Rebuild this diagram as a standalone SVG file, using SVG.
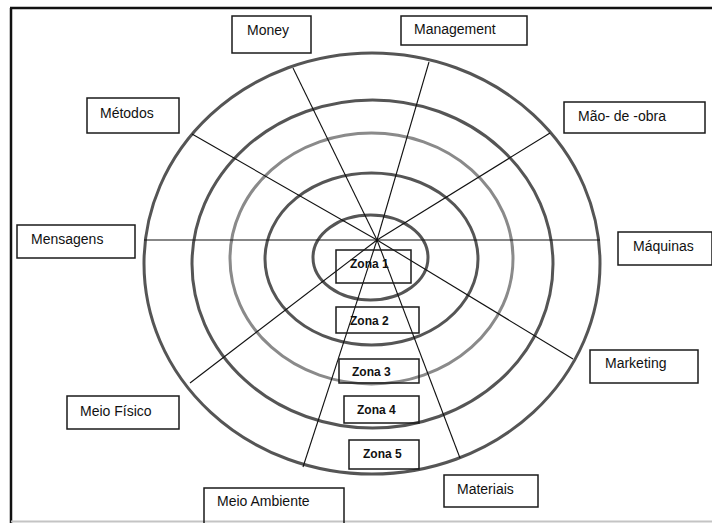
<svg xmlns="http://www.w3.org/2000/svg" width="712" height="523" viewBox="0 0 712 523">
  <style>
    .box { fill: none; stroke: #1a1a1a; stroke-width: 1.5; }
    .lbl { font-family: "Liberation Sans", Arial, sans-serif; font-size: 14px; fill: #111; }
    .zl { font-family: "Liberation Sans", Arial, sans-serif; font-size: 12px; font-weight: bold; fill: #111; }
    .ring { fill: none; stroke: #555; stroke-width: 3; }
    .ring.light { stroke: #8a8a8a; }
    .spoke { stroke: #111; stroke-width: 1.1; }
  </style>
  <rect x="0" y="0" width="712" height="523" fill="#fff"/>
  <g id="frame">
    <line x1="10" y1="8" x2="712" y2="8" stroke="#111" stroke-width="2.5"/>
    <line x1="11" y1="8" x2="11" y2="523" stroke="#111" stroke-width="2.5"/>
    <line x1="11" y1="521.5" x2="712" y2="521.5" stroke="#c4c4c4" stroke-width="2"/>
  </g>
  <g id="rings">
    <ellipse class="ring" cx="372" cy="263.5" rx="228" ry="210.5"/>
    <ellipse class="ring" cx="372.5" cy="264" rx="180.5" ry="164"/>
    <ellipse class="ring light" cx="371.5" cy="258.5" rx="141.5" ry="125.5"/>
    <ellipse class="ring" cx="371.5" cy="259" rx="106.5" ry="86"/>
    <ellipse class="ring" cx="370.5" cy="257.5" rx="57.5" ry="42.5"/>
  </g>
  <g id="connectors">
    <line class="spoke" x1="144" y1="240" x2="600" y2="240"/>
    <line class="spoke" x1="377" y1="240" x2="293" y2="68"/>
    <line class="spoke" x1="377" y1="240" x2="429" y2="62"/>
    <line class="spoke" x1="377" y1="240" x2="192" y2="134"/>
    <line class="spoke" x1="377" y1="240" x2="550" y2="133"/>
    <line class="spoke" x1="377" y1="240" x2="190" y2="383"/>
    <line class="spoke" x1="377" y1="240" x2="573" y2="359"/>
    <line class="spoke" x1="377" y1="240" x2="303" y2="467"/>
    <line class="spoke" x1="377" y1="240" x2="460" y2="458"/>
  </g>
  <g id="money"><rect class="box" x="232" y="16" width="79" height="37"/><text class="lbl" x="247" y="35">Money</text></g>
  <g id="management"><rect class="box" x="401" y="16" width="126" height="29"/><text class="lbl" x="414" y="34">Management</text></g>
  <g id="metodos"><rect class="box" x="87" y="98" width="92" height="35"/><text class="lbl" x="100" y="118">Métodos</text></g>
  <g id="mao-de-obra"><rect class="box" x="564" y="102" width="141" height="31"/><text class="lbl" x="578" y="121">Mão- de -obra</text></g>
  <g id="mensagens"><rect class="box" x="17" y="225" width="118" height="33"/><text class="lbl" x="31" y="244">Mensagens</text></g>
  <g id="maquinas"><rect class="box" x="618" y="232" width="94" height="33"/><text class="lbl" x="633" y="251">Máquinas</text></g>
  <g id="marketing"><rect class="box" x="590" y="350" width="108" height="33"/><text class="lbl" x="605" y="368">Marketing</text></g>
  <g id="meio-fisico"><rect class="box" x="67" y="396" width="112" height="33"/><text class="lbl" x="80" y="416">Meio Físico</text></g>
  <g id="materiais"><rect class="box" x="444" y="475" width="94" height="32"/><text class="lbl" x="457" y="494">Materiais</text></g>
  <g id="meio-ambiente"><rect class="box" x="204" y="488" width="140" height="36"/><text class="lbl" x="217" y="506">Meio Ambiente</text></g>
  <g id="zona1"><rect class="box" x="336" y="250" width="75" height="33"/><text class="zl" x="350" y="268">Zona 1</text></g>
  <g id="zona2"><rect class="box" x="336" y="307" width="83" height="26"/><text class="zl" x="350" y="325">Zona 2</text></g>
  <g id="zona3"><rect class="box" x="339" y="359" width="80" height="24"/><text class="zl" x="352" y="376">Zona 3</text></g>
  <g id="zona4"><rect class="box" x="344" y="396" width="75" height="27"/><text class="zl" x="357" y="414">Zona 4</text></g>
  <g id="zona5"><rect class="box" x="349" y="440" width="70" height="29"/><text class="zl" x="363" y="458">Zona 5</text></g>
</svg>
